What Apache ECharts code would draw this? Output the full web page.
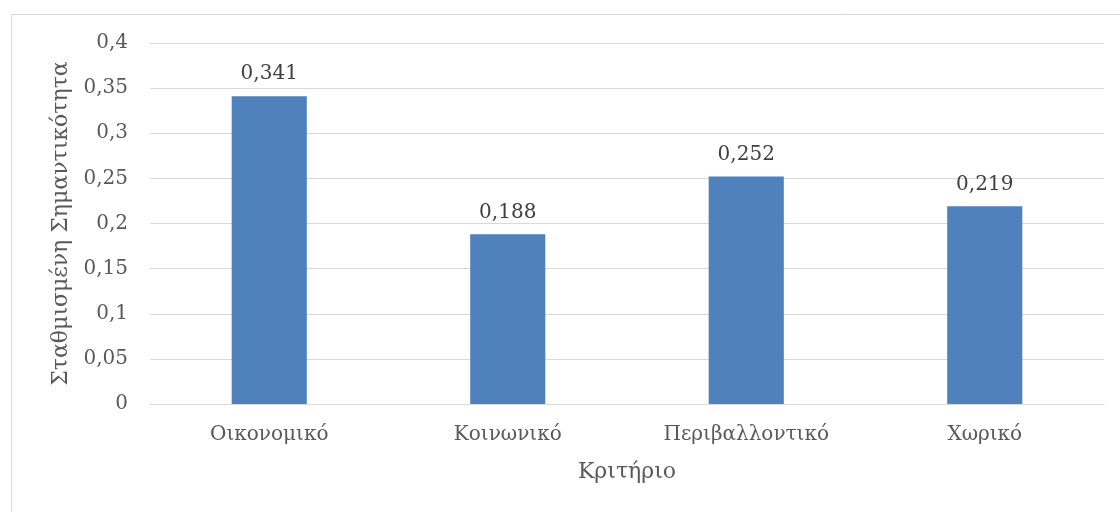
<!DOCTYPE html>
<html>
<head>
<meta charset="utf-8">
<script src="https://cdn.jsdelivr.net/npm/echarts@6/dist/echarts.min.js"></script>
<style>
html, body { margin: 0; padding: 0; background: #fff; }
#chart { width: 1120px; height: 512px; }
</style>
</head>
<body>
<div id="chart"></div>
<script>
var categories = ['Οικονομικό', 'Κοινωνικό', 'Περιβαλλοντικό', 'Χωρικό'];
var weights = [0.341, 0.188, 0.252, 0.219];

var FONT = '"DejaVu Serif", "Liberation Serif", serif';
var fmtComma = function(v) { return String(v).replace('.', ','); };

var chart = echarts.init(document.getElementById('chart'));
chart.setOption({
    animation: false,
    textStyle: { fontFamily: FONT },
    graphic: [{
        type: 'rect',
        shape: { x: 11.5, y: 14.5, width: 1200, height: 600 },
        style: { fill: 'none', stroke: '#d9d9d9', lineWidth: 1 },
        silent: true
    }],
    grid: {
        top: 43,
        bottom: 108,
        left: 150,
        right: 16
    },
    xAxis: {
        type: 'category',
        data: categories,
        name: 'Κριτήριο',
        nameLocation: 'middle',
        nameGap: 57,
        nameTextStyle: { fontSize: 22, color: '#595959', fontFamily: FONT },
        axisLine: { lineStyle: { color: '#d9d9d9', width: 1 } },
        axisTick: { show: false },
        axisLabel: { fontSize: 20, color: '#595959', margin: 21, fontFamily: FONT }
    },
    yAxis: {
        type: 'value',
        min: 0,
        max: 0.4,
        interval: 0.05,
        name: 'Σταθμισμένη Σημαντικότητα',
        nameLocation: 'middle',
        nameGap: 75,
        nameTextStyle: { fontSize: 22, color: '#595959', fontFamily: FONT },
        axisLine: { show: false },
        axisTick: { show: false },
        splitLine: { lineStyle: { color: '#d9d9d9', width: 1 } },
        axisLabel: {
            fontSize: 20, color: '#595959', margin: 22, fontFamily: FONT,
            formatter: fmtComma
        }
    },
    series: [{
        type: 'bar',
        data: weights,
        barWidth: '31.5%',
        itemStyle: { color: '#4f81bd' },
        label: {
            show: true,
            position: 'top',
            distance: 12,
            fontSize: 20,
            color: '#404040',
            fontFamily: FONT,
            formatter: function(p) { return fmtComma(p.value); }
        }
    }]
});
</script>
</body>
</html>
